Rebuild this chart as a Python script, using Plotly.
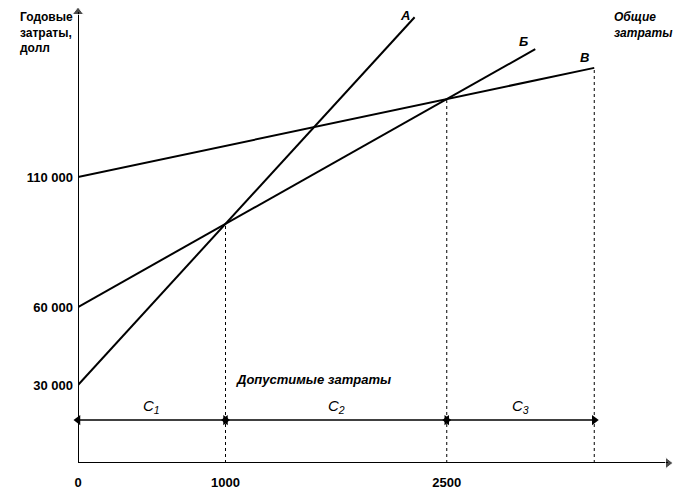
import plotly.graph_objects as go

# ---- data (schematic cost lines: fixed cost + variable cost * volume) ----
line_names = ["A", "Б", "В"]
line_a_x = [0, 1000, 2282]
line_a_y = [30000, 92000, 171484]
line_b_x = [0, 1000, 2500, 3100]
line_b_y = [60000, 92000, 140000, 159200]
line_v_x = [0, 2500, 3500]
line_v_y = [110000, 140000, 152000]

boundary_x = [1000, 2500, 3500]
boundary_top = [92000, 140000, 152000]

segment_start = [0, 1000, 2500]
segment_end = [1000, 2500, 3500]
segment_labels = ["C<sub>1</sub>", "C<sub>2</sub>", "C<sub>3</sub>"]
segment_level = 16500

y_tick_vals = [30000, 60000, 110000]
y_tick_text = ["30 000", "60 000", "110 000"]
x_tick_vals = [0, 1000, 2500]
x_tick_text = ["0", "1000", "2500"]

x_max = 4000
y_max = 173500

FONT = "Liberation Sans Narrow, Liberation Sans, Arial, sans-serif"

fig = go.Figure()

# axes with arrow heads
fig.add_trace(go.Scatter(x=[0, 0], y=[0, y_max], mode="lines+markers",
                         line=dict(color="black", width=2),
                         marker=dict(symbol=["circle", "triangle-up"], size=[0, 10], color="black"),
                         cliponaxis=False, showlegend=False, hoverinfo="skip"))
fig.add_trace(go.Scatter(x=[0, x_max], y=[0, 0], mode="lines+markers",
                         line=dict(color="black", width=2),
                         marker=dict(symbol=["circle", "triangle-right"], size=[0, 10], color="black"),
                         cliponaxis=False, showlegend=False, hoverinfo="skip"))

for xs, ys in [(line_a_x, line_a_y), (line_b_x, line_b_y), (line_v_x, line_v_y)]:
    fig.add_trace(go.Scatter(x=xs, y=ys, mode="lines",
                             line=dict(color="black", width=2),
                             showlegend=False, hoverinfo="skip"))

for bx, bt in zip(boundary_x, boundary_top):
    fig.add_trace(go.Scatter(x=[bx, bx], y=[0, bt], mode="lines",
                             line=dict(color="black", width=1, dash="dot"),
                             showlegend=False, hoverinfo="skip"))

# segment double arrows
for s, e in zip(segment_start, segment_end):
    fig.add_trace(go.Scatter(x=[s, e], y=[segment_level, segment_level], mode="lines+markers",
                             line=dict(color="black", width=1.5),
                             marker=dict(symbol=["triangle-left", "triangle-right"], size=9,
                                         color="black"),
                             cliponaxis=False, showlegend=False, hoverinfo="skip"))

annotations = []
for s, e, lab in zip(segment_start, segment_end, segment_labels):
    annotations.append(dict(x=(s + e) / 2, y=segment_level, xref="x", yref="y",
                            text="<i>" + lab + "</i>", showarrow=False,
                            yanchor="bottom", yshift=2,
                            font=dict(family=FONT, size=15, color="black")))

# line end labels
ends = [(line_a_x[-1], line_a_y[-1], -10, 2), (line_b_x[-1], line_b_y[-1], -12, 8),
        (line_v_x[-1], line_v_y[-1], -10, 10)]
for name, (ex, ey, dx, dy) in zip(line_names, ends):
    annotations.append(dict(x=ex, y=ey, xref="x", yref="y", text="<b><i>" + name + "</i></b>",
                            showarrow=False, xshift=dx, yshift=dy,
                            font=dict(family=FONT, size=13, color="black")))

annotations.append(dict(x=3620, y=1, xref="x", yref="paper", xanchor="left", yanchor="top",
                        yshift=4, align="left", text="<b><i>Общие<br>затраты</i></b>",
                        showarrow=False, font=dict(family=FONT, size=12, color="black")))
annotations.append(dict(x=1000, y=32000, xref="x", yref="y", xanchor="left", xshift=8,
                        text="<b><i>Допустимые затраты</i></b>", showarrow=False,
                        font=dict(family=FONT, size=13, color="black")))
annotations.append(dict(x=0, y=1, xref="paper", yref="paper", xanchor="right", yanchor="top",
                        xshift=-3, yshift=4, align="left",
                        text="<b>Годовые<br>затраты,<br>долл</b>", showarrow=False,
                        font=dict(family=FONT, size=12, color="black")))

# page body has an 8px margin: size the figure so that it fills the 696x503 window
fig.update_layout(
    width=688, height=495,
    margin=dict(l=70, r=28, t=4, b=40, autoexpand=False),
    paper_bgcolor="white", plot_bgcolor="white",
    annotations=annotations,
    xaxis=dict(range=[0, x_max], showgrid=False, zeroline=False, showline=False,
               automargin=False,
               tickvals=x_tick_vals, ticktext=["<b>" + t + "</b>" for t in x_tick_text], ticks="",
               ticklabelstandoff=10,
               tickfont=dict(family=FONT, size=13, color="black")),
    yaxis=dict(range=[0, y_max], showgrid=False, zeroline=False, showline=False,
               automargin=False,
               tickvals=y_tick_vals, ticktext=["<b>" + t + "</b>" for t in y_tick_text], ticks="",
               ticklabelstandoff=4,
               tickfont=dict(family=FONT, size=13, color="black")),
)

fig.write_html("out.html")
